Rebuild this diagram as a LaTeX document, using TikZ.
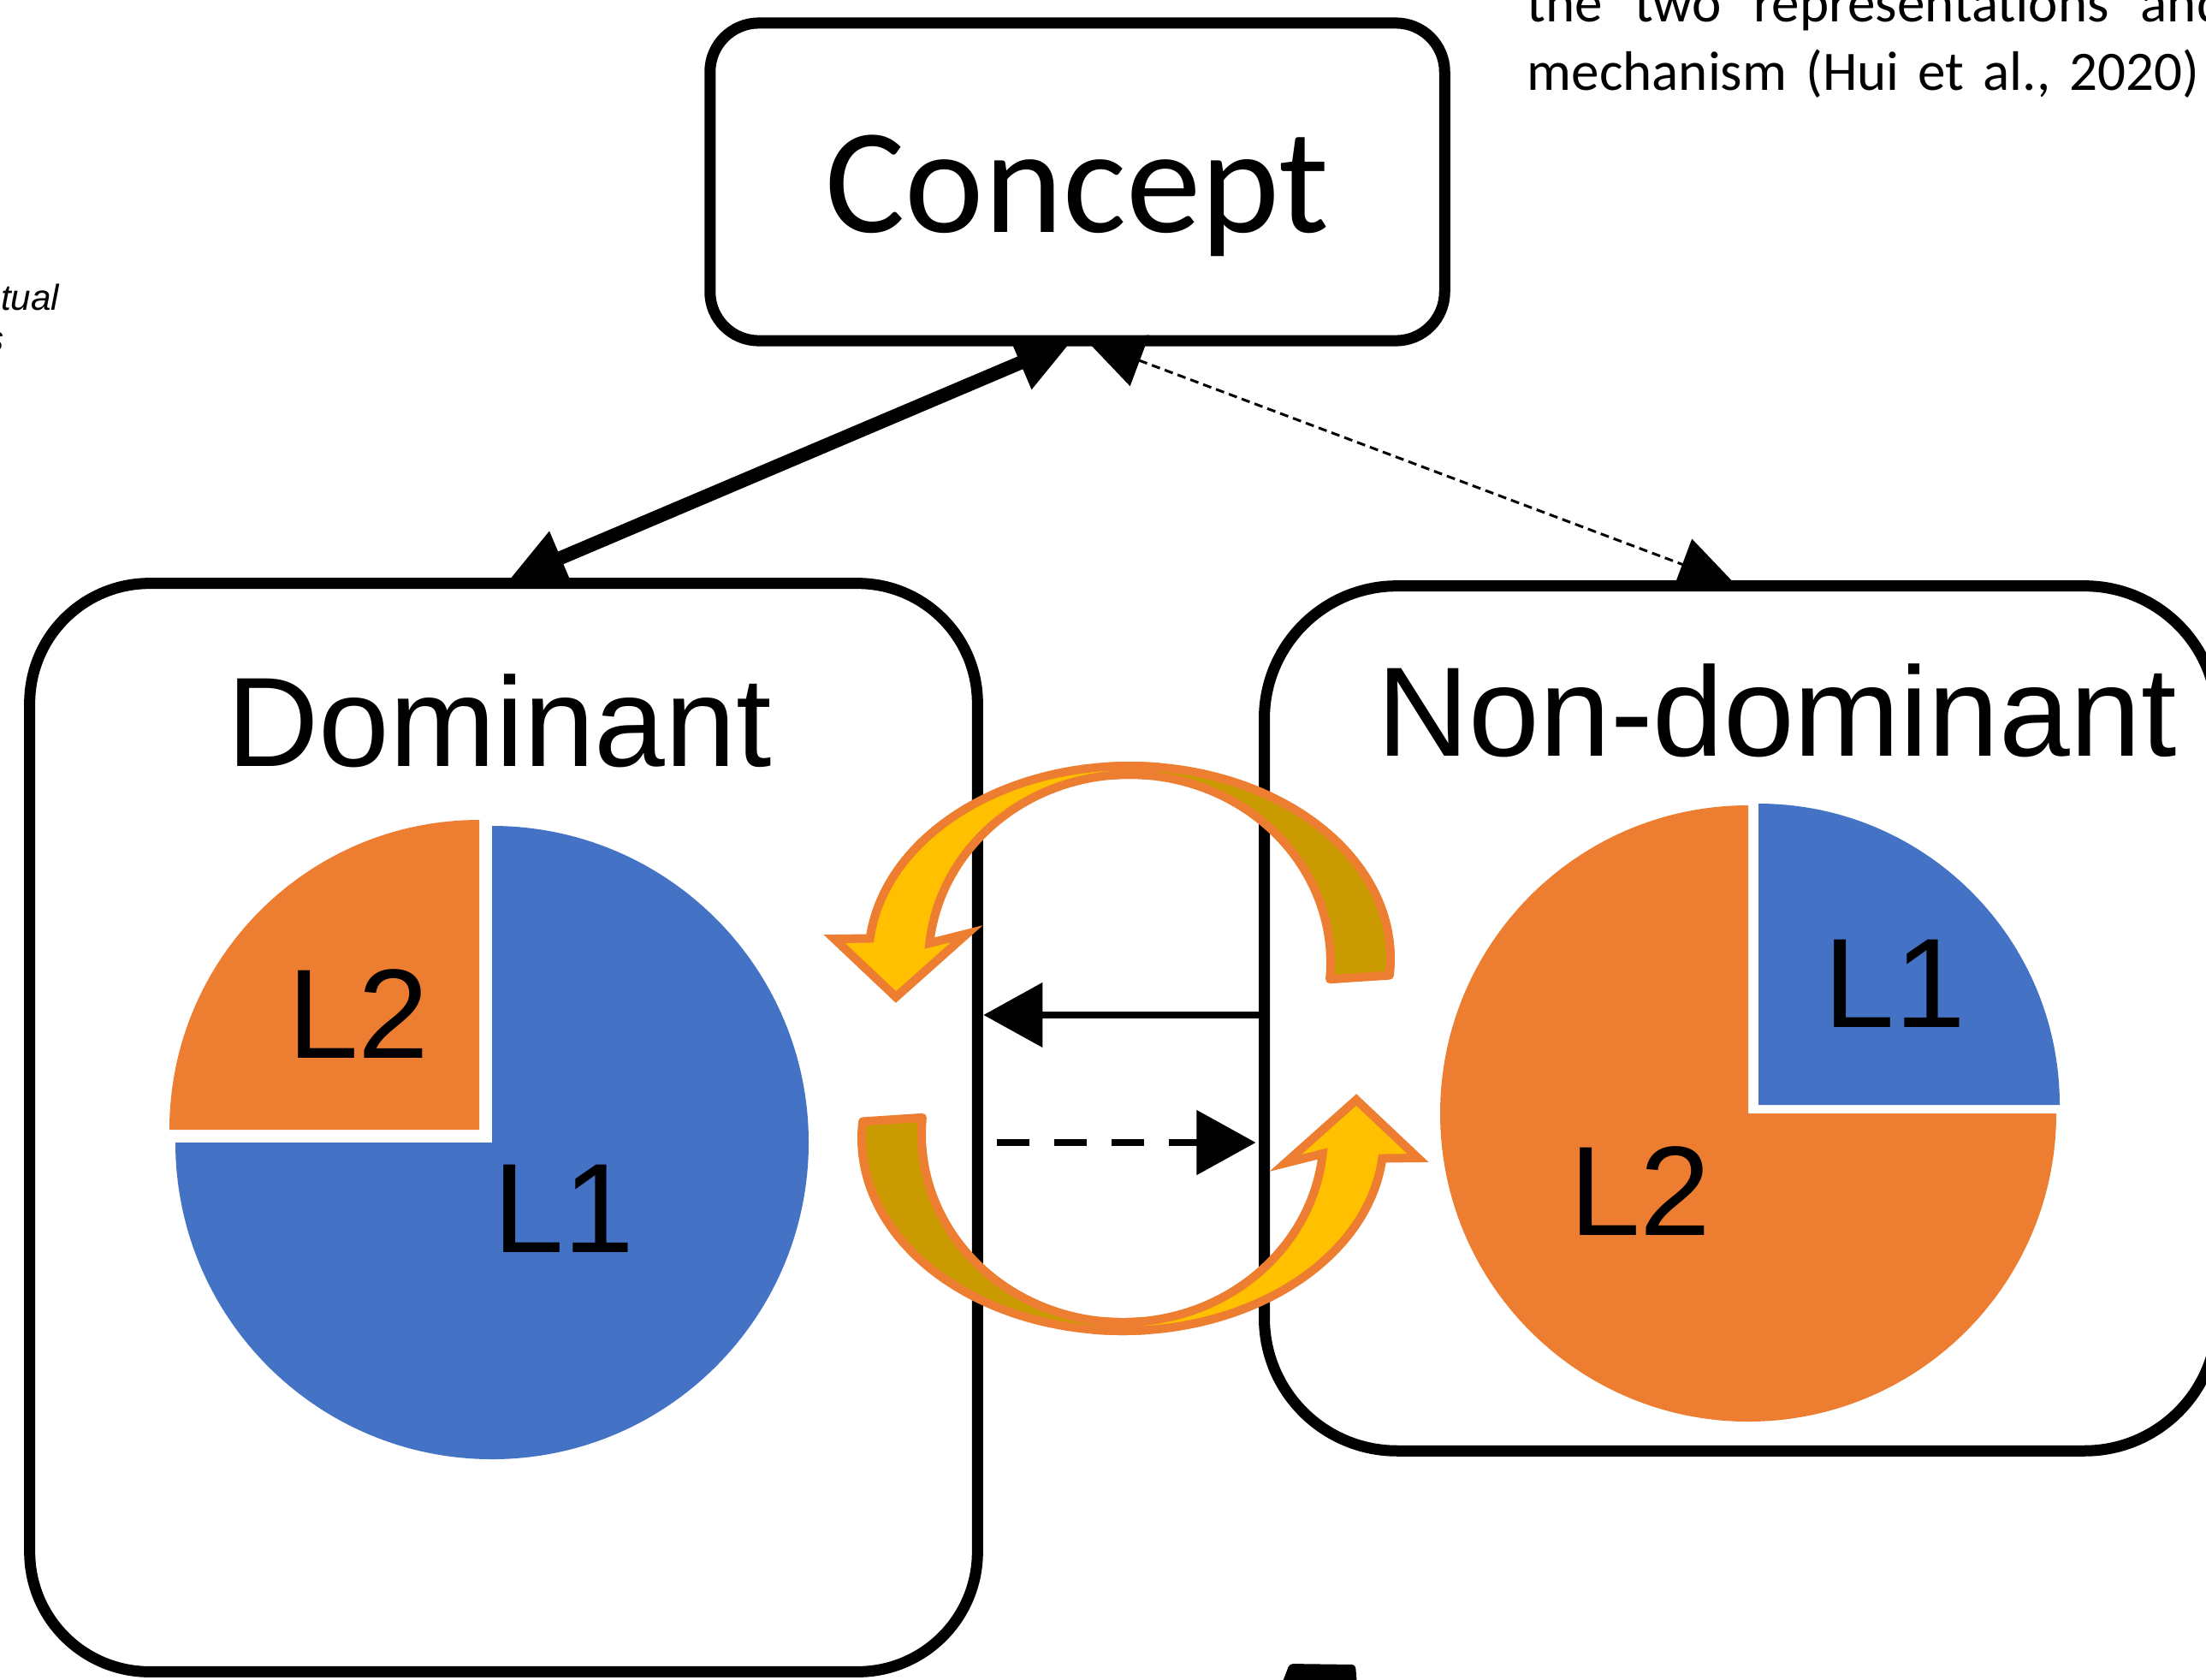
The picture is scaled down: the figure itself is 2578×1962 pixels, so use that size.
\documentclass[tikz,border=0pt]{standalone}
\usepackage{fontspec}
\setmainfont{Liberation Sans}
\newfontfamily\calibri{Carlito}
\usetikzlibrary{shapes,arrows.meta,positioning,calc}

\definecolor{pieblue}{HTML}{4472C4}
\definecolor{pieorange}{HTML}{ED7D31}
\definecolor{swirlgold}{HTML}{FFC000}
\definecolor{swirldark}{HTML}{C99A00}

\tikzset{
    bighead/.tip={Triangle[length=0.66cm, width=0.63cm]},
    pics/swirl/.style={
        code={
            % back half of the curved arrow
            \filldraw[fill=swirldark, draw=pieorange, line width=0.1cm, line join=round]
                (-95:305 and 225) arc[start angle=-95, end angle=5, x radius=305, y radius=225]
                -- ($(0,5)+(5:235 and 220)$)
                arc[start angle=5, end angle=-95, x radius=235, y radius=220] -- cycle;
            % front half with the head
            \filldraw[fill=swirlgold, draw=pieorange, line width=0.1cm, line join=miter]
                (-85:305 and 225) arc[start angle=-85, end angle=-174, x radius=305, y radius=225]
                -- (-345,-23) -- (-273,45) -- (-190,-29)
                -- ($(0,5)+(-174:235 and 220)$)
                arc[start angle=-174, end angle=-85, x radius=235, y radius=220] -- cycle;
        }
    }
}

\begin{document}
\begin{tikzpicture}[
    x=0.01cm, y=-0.01cm,
    framebox/.style={
        rectangle,
        draw=black,
        fill=white,
        line width=0.13cm,
        inner sep=0pt,
        outer sep=0pt
    },
    boxtitle/.style={font=\fontsize{42.3}{50}\selectfont, inner sep=0pt, anchor=base},
    slicelabel/.style={font=\fontsize{42.3}{50}\selectfont, inner sep=0pt, anchor=base},
    link/.style={line width=0.08cm, -{Triangle[length=0.69cm, width=0.74cm]}}
]
    \useasboundingbox (0,0) rectangle (2578,1962);

    % Create the concept node
    \node[framebox, minimum width=8.58cm, minimum height=3.71cm, rounded corners=0.57cm,
          font=\calibri\fontsize{49.8}{60}\selectfont, text height=1.17cm, text depth=0pt]
          (concept) at (1259,212.5) {Concept};

    % Create the dominant node
    \node[framebox, minimum width=11.07cm, minimum height=12.71cm, rounded corners=1.4cm]
          (dominant) at (588.5,1317.5) {};

    % Create the non-dominant node to the right of the first
    \node[framebox, minimum width=11.13cm, minimum height=10.1cm, rounded corners=1.55cm,
          right=3.35cm of dominant.north east, anchor=north west, yshift=-0.03cm]
          (nondominant) {};

    % Titles of the two language boxes
    \node[boxtitle] (dominanttitle) at ([xshift=-0.05cm, yshift=-2.14cm]dominant.north) {Dominant};
    \node[boxtitle] (nondominanttitle) at ([xshift=0.42cm, yshift=-1.99cm]nondominant.north) {Non-dominant};

    % Pie of the dominant language
    \fill[pieblue] (575,1335) -- ++(-90:370) arc[start angle=-90, end angle=180, radius=370] -- cycle;
    \fill[pieorange] (560,1320) -- ++(180:362) arc[start angle=180, end angle=270, radius=362] -- cycle;
    \node[slicelabel] (domltwo) at (419,1236) {L2};
    \node[slicelabel] (domlone) at (659,1463) {L1};

    % Pie of the non-dominant language
    \fill[pieorange] (2043,1301) -- ++(0:360) arc[start angle=0, end angle=270, radius=360] -- cycle;
    \fill[pieblue] (2055,1291) -- ++(-90:352) arc[start angle=-90, end angle=0, radius=352] -- cycle;
    \node[slicelabel] (nonlone) at (2214,1200) {L1};
    \node[slicelabel] (nonltwo) at (1917,1443) {L2};

    % Strong two-way link to the concept
    \draw[line width=0.16cm, bighead-bighead]
        ([xshift=0.06cm, yshift=0.04cm]dominant.north) -- ([xshift=-0.06cm]concept.south);

    % Weak two-way link to the concept
    \draw[line width=0.03cm, dash pattern=on 0.1cm off 0.06cm, bighead-bighead]
        ([xshift=0.11cm]concept.south) -- ([xshift=-0.065cm, yshift=0.02cm]nondominant.north);

    % Links between the two languages
    \coordinate (backstart) at ([yshift=0.04cm]nondominant.west);
    \coordinate (fwdend) at ([yshift=-1.45cm]nondominant.west);
    \draw[link, shorten >=0.07cm] (backstart) -- (backstart -| dominant.east);
    \draw[link, dash pattern=on 0.38cm off 0.29cm, shorten <=0.23cm, shorten >=0.1cm]
        (fwdend -| dominant.east) -- (fwdend);

    % Curved arrows above and below
    \pic at (1320,1120) {swirl};
    \pic[rotate=180] at (1312,1330) {swirl};

    % Text cut off at the edges
    \node[anchor=base west, inner sep=0pt, font=\calibri\fontsize{18.5}{22}\selectfont]
        (textlineone) at (1784,25) {\spaceskip=0.37cm the two representations and};
    \node[anchor=base west, inner sep=0pt, font=\calibri\fontsize{18.5}{22}\selectfont]
        (textlinetwo) at (1784,105) {\spaceskip=0.22cm mechanism (Hui et al., 2020)};
    \node[anchor=base east, inner sep=0pt, font=\itshape\fontsize{12}{14}\selectfont]
        (sidelineone) at (70,362) {tual};
    \node[anchor=base east, inner sep=0pt, font=\itshape\fontsize{12}{14}\selectfont]
        (sidelinetwo) at (5,410) {s};

    % Dark shape at the bottom edge
    \fill[rounded corners=0.04cm] (1497,1970) -- (1507,1944) -- (1584,1945) -- (1586,1970) -- cycle;

\end{tikzpicture}
\end{document}
